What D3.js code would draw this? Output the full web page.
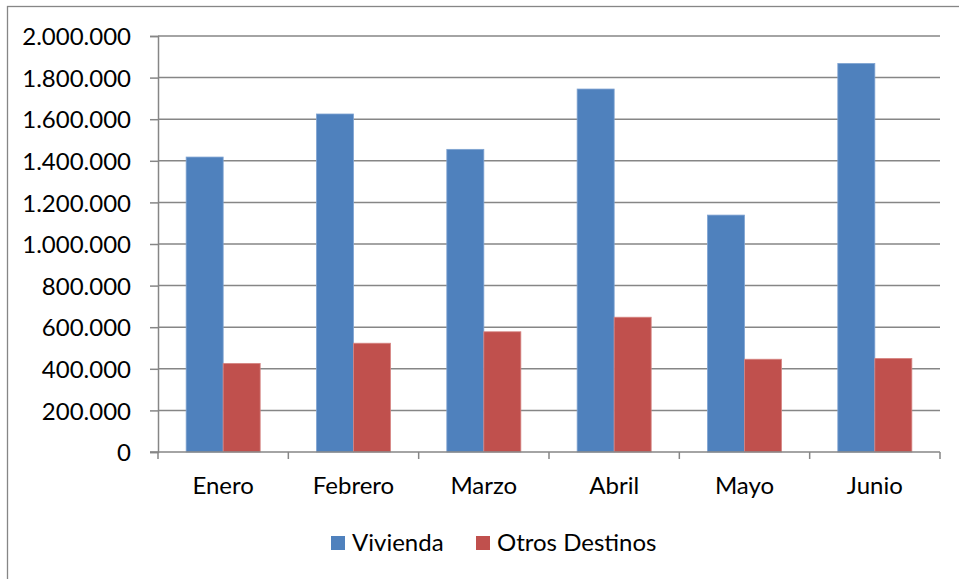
<!DOCTYPE html>
<html>
<head>
<meta charset="utf-8">
<script src="https://cdn.jsdelivr.net/npm/d3@7"></script>
<style>
  body { margin: 0; background: #fff; }
  svg { display: block; font-family: Lato, "Noto Sans", sans-serif; }
</style>
</head>
<body>
<div class="chart-section"></div>
<script>
var meses = ["Enero", "Febrero", "Marzo", "Abril", "Mayo", "Junio"];
var vivienda = [1418000, 1625000, 1455000, 1745000, 1139000, 1868000];
var otrosDestinos = [426000, 523000, 578000, 648000, 446000, 450000];
var series = ["Vivienda", "Otros Destinos"];
var yTicks = [0, 200000, 400000, 600000, 800000, 1000000, 1200000, 1400000, 1600000, 1800000, 2000000];

var svgWidth = 959;
var svgHeight = 579;
var colors = ["#4F81BD", "#C0504D"];
var gridColor = "#868686";

var locale = d3.formatLocale({decimal: ",", thousands: ".", grouping: [3], currency: ["", ""]});
var fmt = locale.format(",d");

var svg = d3.select(".chart-section").append("svg")
  .attr("width", svgWidth)
  .attr("height", svgHeight);

// outer chart frame (runs off the right and bottom edge)
svg.append("rect")
  .attr("x", 7.5)
  .attr("y", 6.5)
  .attr("width", 1000)
  .attr("height", 600)
  .attr("fill", "none")
  .attr("stroke", gridColor)
  .attr("stroke-width", 1.3);

var plotLeft = 158, plotRight = 940, plotTop = 36, plotBottom = 452;

var xScale = d3.scaleBand()
  .domain(meses)
  .range([plotLeft, plotRight]);

var yScale = d3.scaleLinear()
  .domain([0, 2000000])
  .range([plotBottom, plotTop]);

// gridlines
svg.append("g")
  .selectAll("line")
  .data(yTicks.slice(1))
  .enter()
  .append("line")
    .attr("x1", plotLeft)
    .attr("x2", plotRight)
    .attr("y1", function(d){ return yScale(d); })
    .attr("y2", function(d){ return yScale(d); })
    .attr("stroke", gridColor)
    .attr("stroke-width", 1.5);

// bars
var barW = xScale.bandwidth() * 0.284;
var groups = svg.append("g")
  .selectAll("g")
  .data(meses)
  .enter()
  .append("g")
    .attr("transform", function(d){ return "translate(" + (xScale(d) + xScale.bandwidth() / 2 - barW) + ",0)"; });

groups.selectAll("rect")
  .data(function(d, i){ return [vivienda[i], otrosDestinos[i]]; })
  .enter()
  .append("rect")
    .attr("x", function(d, j){ return j * barW; })
    .attr("y", function(d){ return yScale(d); })
    .attr("width", barW)
    .attr("height", function(d){ return plotBottom - yScale(d); })
    .attr("fill", function(d, j){ return colors[j]; })
    .attr("stroke", function(d, j){ return j === 0 ? "#7FA3D1" : "#D68583"; })
    .attr("stroke-width", 0.8);

// y axis
var yAxis = d3.axisLeft(yScale)
  .tickValues(yTicks)
  .tickSize(8)
  .tickPadding(19)
  .tickFormat(fmt);

var yG = svg.append("g")
  .attr("transform", "translate(" + plotLeft + ",0)")
  .call(yAxis);
yG.select(".domain").attr("stroke", gridColor).attr("stroke-width", 1.5);
yG.selectAll(".tick line").attr("stroke", gridColor).attr("stroke-width", 1.5);
yG.selectAll(".tick text")
  .attr("fill", "#000")
  .style("font-family", "Lato, sans-serif")
  .style("font-size", "24px")
  .attr("dy", "0.36em");

// x axis
var xG = svg.append("g")
  .attr("transform", "translate(0," + plotBottom + ")");
xG.append("line")
  .attr("x1", plotLeft - 8)
  .attr("x2", plotRight)
  .attr("stroke", gridColor)
  .attr("stroke-width", 1.5);
xG.selectAll(".xtick")
  .data(meses.concat(["end"]))
  .enter()
  .append("line")
    .attr("class", "xtick")
    .attr("x1", function(d, i){ return plotLeft + i * xScale.step(); })
    .attr("x2", function(d, i){ return plotLeft + i * xScale.step(); })
    .attr("y1", 0)
    .attr("y2", 7)
    .attr("stroke", gridColor)
    .attr("stroke-width", 1.5);
xG.selectAll(".xlabel")
  .data(meses)
  .enter()
  .append("text")
    .attr("class", "xlabel")
    .attr("x", function(d){ return xScale(d) + xScale.bandwidth() / 2; })
    .attr("y", 42)
    .attr("text-anchor", "middle")
    .style("font-size", "24px")
    .text(function(d){ return d; });

// legend
var legendX = [331, 476];
var legend = svg.append("g")
  .selectAll("g")
  .data(series)
  .enter()
  .append("g")
    .attr("transform", function(d, i){ return "translate(" + legendX[i] + ",536)"; });
legend.append("rect")
  .attr("width", 14)
  .attr("height", 14)
  .attr("fill", function(d, i){ return colors[i]; });
legend.append("text")
  .attr("x", 21)
  .attr("y", 15)
  .style("font-size", "24px")
  .text(function(d){ return d; });
</script>
</body>
</html>
